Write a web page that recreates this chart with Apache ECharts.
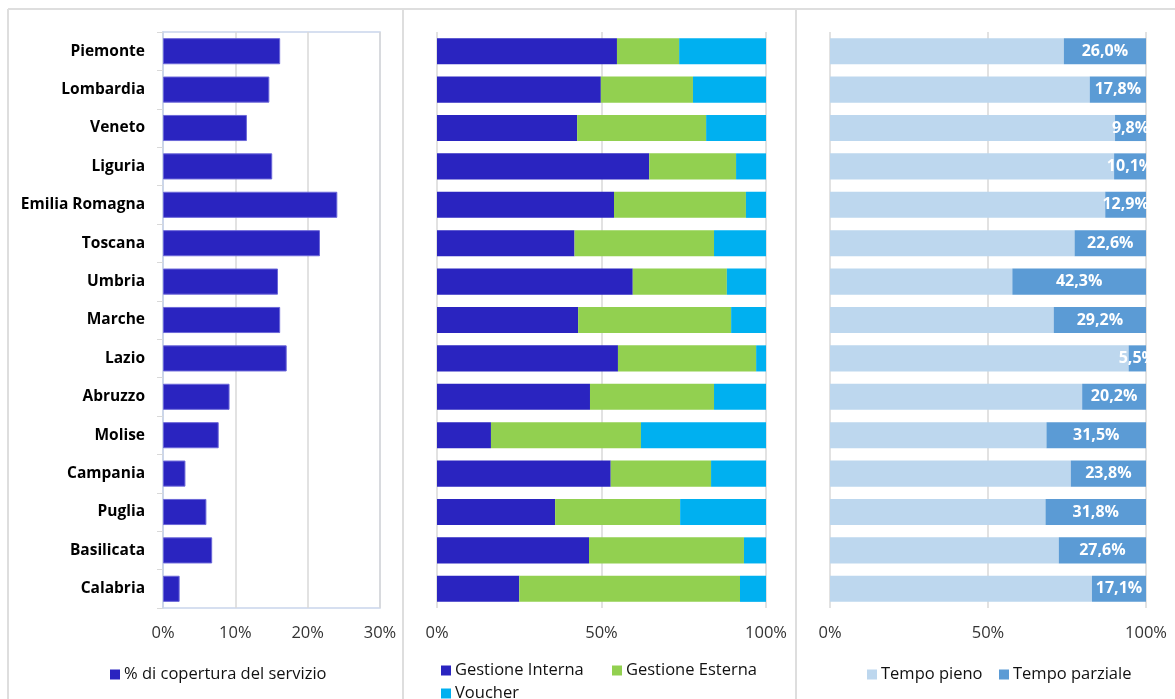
<!DOCTYPE html>
<html>
<head>
<meta charset="utf-8">
<script src="https://cdn.jsdelivr.net/npm/echarts@6/dist/echarts.min.js"></script>
<style>
  html, body { margin: 0; padding: 0; background: #fff; }
  #chart { width: 1175px; height: 699px; }
</style>
</head>
<body>
<div id="chart"></div>
<script>
// regioni
const regioni = ['Piemonte', 'Lombardia', 'Veneto', 'Liguria', 'Emilia Romagna', 'Toscana', 'Umbria', 'Marche',
  'Lazio', 'Abruzzo', 'Molise', 'Campania', 'Puglia', 'Basilicata', 'Calabria'];

// % di copertura del servizio
const copertura = [16.2, 14.7, 11.6, 15.1, 24.1, 21.7, 15.9, 16.2, 17.1, 9.2, 7.7, 3.1, 6.0, 6.8, 2.3];

// tipo di gestione
const gestioneInterna = [54.7, 49.8, 42.6, 64.5, 53.8, 41.8, 59.5, 42.9, 55.0, 46.5, 16.4, 52.8, 35.9, 46.2, 25.0];
const gestioneEsterna = [18.9, 28.0, 39.2, 26.4, 40.1, 42.4, 28.6, 46.5, 42.0, 37.7, 45.6, 30.5, 38.0, 47.1, 67.1];
const voucher = [26.4, 22.2, 18.2, 9.1, 6.1, 15.8, 11.9, 10.6, 3.0, 15.8, 38.0, 16.7, 26.1, 6.7, 7.9];

// orario
const tempoPieno = [74.0, 82.2, 90.2, 89.9, 87.1, 77.4, 57.7, 70.8, 94.5, 79.8, 68.5, 76.2, 68.2, 72.4, 82.9];
const tempoParziale = [26.0, 17.8, 9.8, 10.1, 12.9, 22.6, 42.3, 29.2, 5.5, 20.2, 31.5, 23.8, 31.8, 27.6, 17.1];

const font = '"Open Sans", sans-serif';
const gridTop = 32, gridBottom = 91;

const chart = echarts.init(document.getElementById('chart'), null, { renderer: 'canvas' });

function xAx(gridIndex, max, interval) {
  return {
    type: 'value', gridIndex: gridIndex, min: 0, max: max, interval: interval,
    axisLine: { show: false },
    axisTick: { show: false },
    splitLine: { show: true, lineStyle: { color: '#d9d9d9', width: 1.5 } },
    axisLabel: { formatter: '{value}%', color: '#333', fontSize: 16.5, fontFamily: font, margin: 17 }
  };
}
function yAx(gridIndex, showLabels) {
  return {
    type: 'category', gridIndex: gridIndex, data: regioni, inverse: true,
    axisLine: { show: showLabels, lineStyle: { color: '#c9d5ec', width: 1.5 } },
    axisTick: { show: showLabels, length: 6, lineStyle: { color: '#d9d9d9' } },
    axisLabel: { show: showLabels, color: '#000', fontSize: 15.5, fontWeight: 'bold', fontFamily: font, margin: 18 },
    splitLine: { show: false }
  };
}
function legendAt(name, left, top) {
  return {
    data: [name], left: left, top: top, itemWidth: 10, itemHeight: 10, icon: 'rect',
    itemStyle: { borderWidth: 0 },
    textStyle: { color: '#111', fontSize: 16.5, fontFamily: font, padding: [0, 0, 0, -1] },
    padding: 0
  };
}

chart.setOption({
  animation: false,
  backgroundColor: '#fff',
  grid: [
    { left: 163, width: 217, top: gridTop, bottom: gridBottom, show: true, borderColor: '#c9d5ec', borderWidth: 1.5 },
    { left: 437, width: 329, top: gridTop, bottom: gridBottom },
    { left: 830, width: 316, top: gridTop, bottom: gridBottom }
  ],
  xAxis: [xAx(0, 30, 10), xAx(1, 100, 50), xAx(2, 100, 50)],
  yAxis: [yAx(0, true), yAx(1, false), yAx(2, false)],
  legend: [
    legendAt('% di copertura del servizio', 110, 666),
    legendAt('Gestione Interna', 441, 662),
    legendAt('Gestione Esterna', 612, 662),
    legendAt('Voucher', 441, 685),
    legendAt('Tempo pieno', 867, 666),
    legendAt('Tempo parziale', 999, 666)
  ],
  graphic: [
    { type: 'line', shape: { x1: 8, y1: 9, x2: 1175, y2: 9 }, style: { stroke: '#dedede', lineWidth: 2 } },
    { type: 'line', shape: { x1: 8, y1: 9, x2: 8, y2: 699 }, style: { stroke: '#dedede', lineWidth: 2 } },
    { type: 'line', shape: { x1: 403, y1: 9, x2: 403, y2: 699 }, style: { stroke: '#dedede', lineWidth: 2 } },
    { type: 'line', shape: { x1: 796, y1: 9, x2: 796, y2: 699 }, style: { stroke: '#dedede', lineWidth: 2 } }
  ],
  series: [
    {
      name: '% di copertura del servizio', type: 'bar', xAxisIndex: 0, yAxisIndex: 0,
      data: copertura, barCategoryGap: '32%',
      itemStyle: { color: '#2a24c0', borderColor: '#6a66d8', borderWidth: 1 }
    },
    {
      name: 'Gestione Interna', type: 'bar', stack: 'g', xAxisIndex: 1, yAxisIndex: 1,
      data: gestioneInterna, barCategoryGap: '32%',
      itemStyle: { color: '#2a24c0' }
    },
    {
      name: 'Gestione Esterna', type: 'bar', stack: 'g', xAxisIndex: 1, yAxisIndex: 1,
      data: gestioneEsterna, barCategoryGap: '32%',
      itemStyle: { color: '#92d050' }
    },
    {
      name: 'Voucher', type: 'bar', stack: 'g', xAxisIndex: 1, yAxisIndex: 1,
      data: voucher, barCategoryGap: '32%',
      itemStyle: { color: '#00b0f0' }
    },
    {
      name: 'Tempo pieno', type: 'bar', stack: 't', xAxisIndex: 2, yAxisIndex: 2,
      data: tempoPieno, barCategoryGap: '32%',
      itemStyle: { color: '#bdd7ee' }
    },
    {
      name: 'Tempo parziale', type: 'bar', stack: 't', xAxisIndex: 2, yAxisIndex: 2,
      data: tempoParziale, barCategoryGap: '32%',
      itemStyle: { color: '#5b9bd5' },
      label: {
        show: true, position: 'inside', color: '#fff', fontSize: 16, fontWeight: 'bold', fontFamily: font,
        formatter: function (p) { return p.value.toFixed(1).replace('.', ',') + '%'; }
      }
    }
  ]
});
</script>
</body>
</html>
